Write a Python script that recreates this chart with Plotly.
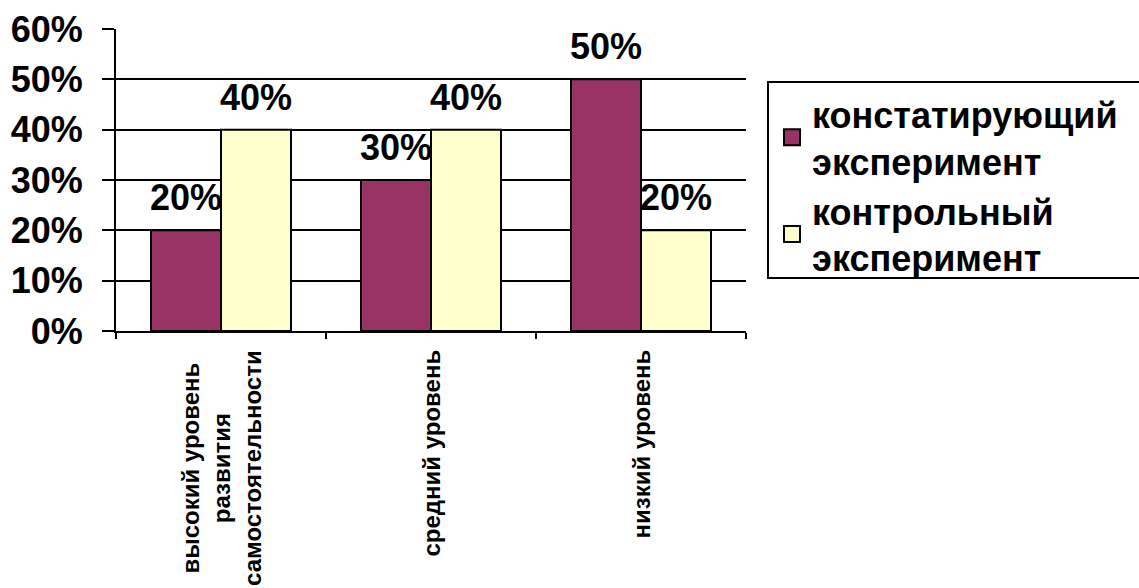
import plotly.graph_objects as go

categories = ["высокий уровень<br>развития<br>самостоятельности", "средний уровень", "низкий уровень"]
series_names = ["констатирующий<br>эксперимент", "контрольный<br>эксперимент"]
ascertaining = [0.20, 0.30, 0.50]
control = [0.40, 0.40, 0.20]
colors = ["#993366", "#FFFFCC"]
y_ticks = [0, 0.1, 0.2, 0.3, 0.4, 0.5, 0.6]

FONT = "Arial, Liberation Sans, sans-serif"

fig = go.Figure()
for vals, col in zip([ascertaining, control], colors):
    fig.add_trace(go.Bar(
        x=categories, y=vals, marker=dict(color=col, line=dict(color="black", width=2)),
        showlegend=False, hoverinfo="skip"))

# legend proxies
for name, col in zip(series_names, colors):
    fig.add_trace(go.Scatter(
        x=[None], y=[None], mode="markers", name=name,
        marker=dict(symbol="square", size=22, color=col, line=dict(color="black", width=2))))

# data labels
for vals, shift in zip([ascertaining, control], [-35, 35]):
    for c, v in zip(categories, vals):
        fig.add_annotation(x=c, y=v, text=f"{v:.0%}", showarrow=False,
                           xshift=shift, yanchor="bottom", yshift=10,
                           font=dict(family=FONT, size=36, color="black", weight=700))

# category labels (rotated, centred lines)
for c in categories:
    fig.add_annotation(x=c, y=0, text=c, showarrow=False, textangle=-90,
                       yanchor="top", yshift=-17, align="center",
                       font=dict(family="Liberation Sans, Arial, sans-serif", size=24,
                                 color="black", weight="bold"))

# legend frame (extends past the right edge like the reference)
fig.add_shape(type="rect", xref="paper", yref="paper",
              x0=(768 - 116) / 630, x1=(1150 - 116) / 630,
              y0=(331 - 278) / 302, y1=(331 - 82) / 302,
              line=dict(color="black", width=2), fillcolor="rgba(0,0,0,0)", layer="above")

fig.update_layout(
    width=1139, height=588,
    margin=dict(l=116, r=393, t=29, b=257),
    paper_bgcolor="white", plot_bgcolor="white",
    barmode="group", bargap=1/3, bargroupgap=0,
    font=dict(family=FONT, color="black"),
    legend=dict(x=(772 - 116) / 630, xanchor="left", y=(331 - 84) / 302, yanchor="top",
                borderwidth=0, bgcolor="rgba(0,0,0,0)",
                font=dict(family=FONT, size=36, color="black", weight=700),
                itemsizing="trace", tracegroupgap=0),
)
fig.update_yaxes(range=[0, 0.6], tickvals=y_ticks, tickformat=".0%", automargin=False,
                 showgrid=True, gridcolor="black", gridwidth=2,
                 showline=True, linecolor="black", linewidth=2,
                 ticks="outside", ticklen=12, tickwidth=2, tickcolor="black",
                 ticklabelstandoff=12, zeroline=False,
                 tickfont=dict(family=FONT, size=36, color="black", weight=700))
fig.update_xaxes(showline=True, linecolor="black", linewidth=2, automargin=False,
                 ticks="outside", tickson="boundaries", ticklen=6, tickwidth=2, tickcolor="black",
                 showticklabels=False, showgrid=False)

fig.write_html("out.html")
